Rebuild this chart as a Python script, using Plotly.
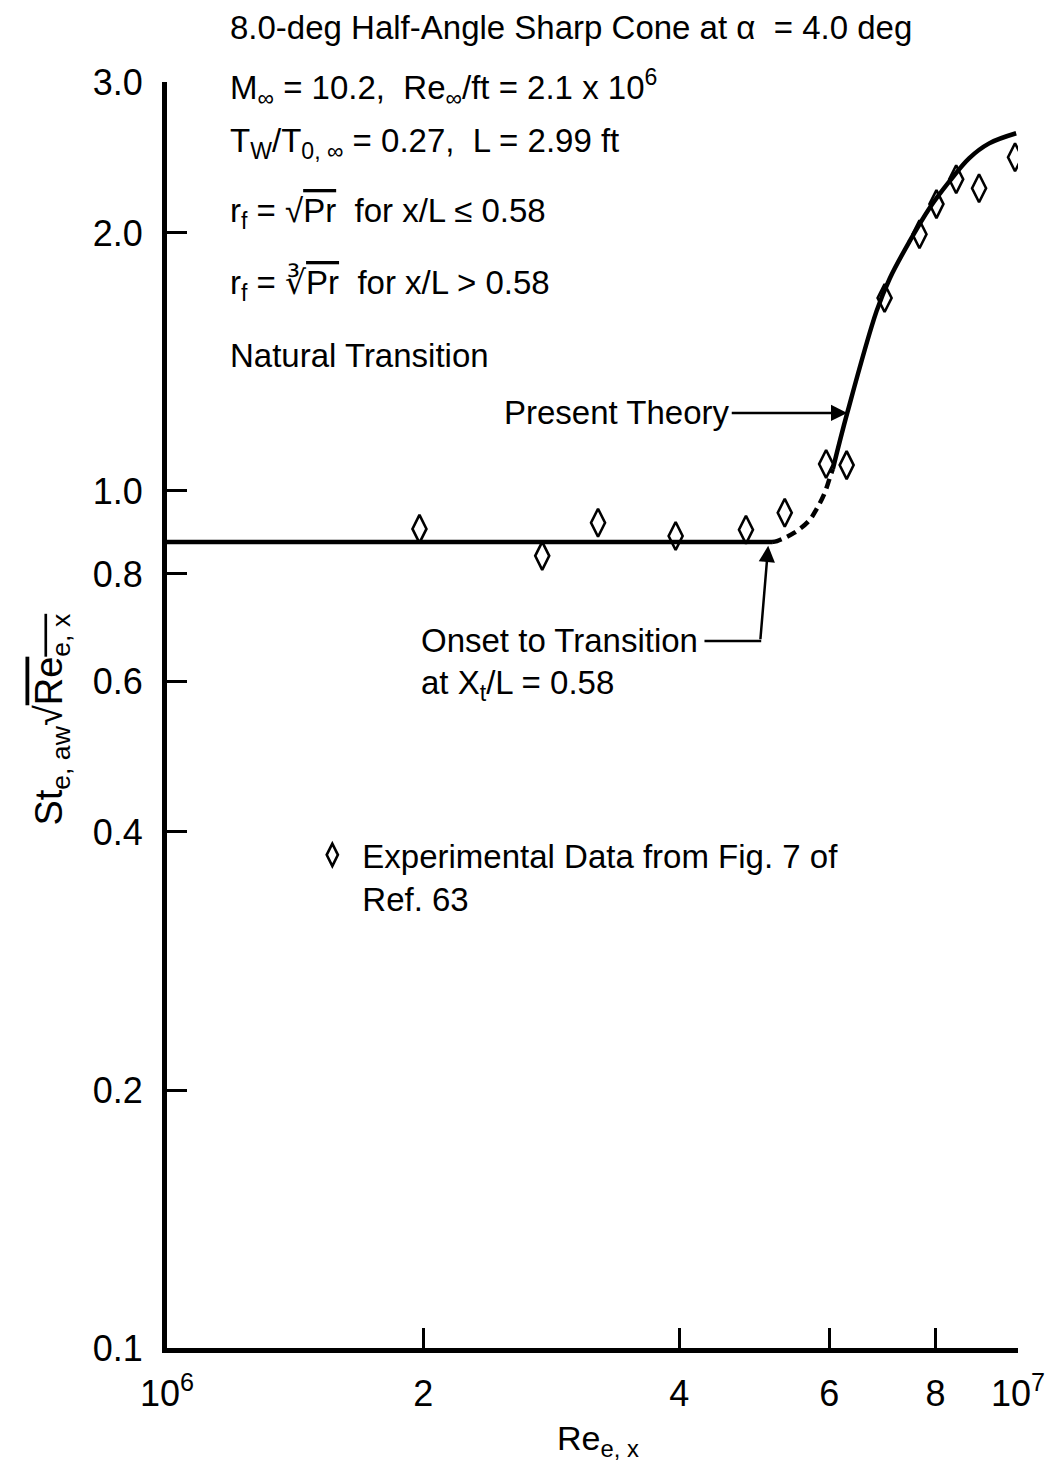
import math
import plotly.graph_objects as go

# ---------------- data ----------------
re_exp = [1.98e6, 2.76e6, 3.21e6, 3.96e6, 4.79e6, 5.32e6, 5.95e6, 6.29e6,
          6.97e6, 7.66e6, 8.02e6, 8.46e6, 9.00e6, 9.92e6]
st_exp = [0.903, 0.840, 0.918, 0.886, 0.901, 0.943, 1.075, 1.072,
          1.679, 1.993, 2.161, 2.310, 2.255, 2.451]

re_lam = [1.0e6, 5.14e6]
st_lam = [0.872, 0.872]

re_trans = [5.14e6, 5.21e6, 5.46e6, 5.68e6, 5.80e6, 5.92e6, 6.01e6, 6.06e6]
st_trans = [0.872, 0.874, 0.894, 0.923, 0.953, 0.992, 1.036, 1.061]

re_turb = [6.06e6, 6.30e6, 6.82e6, 7.07e6, 7.46e6, 7.87e6, 8.31e6, 8.76e6,
           9.25e6, 9.95e6]
st_turb = [1.061, 1.233, 1.621, 1.771, 1.956, 2.137, 2.298, 2.444,
           2.544, 2.614]

x_tickvals = [1e6, 2e6, 4e6, 6e6, 8e6, 1e7]
x_ticktext = ["10<sup>6</sup>", "2", "4", "6", "8", "10<sup>7</sup>"]
y_tickvals = [0.1, 0.2, 0.4, 0.6, 0.8, 1.0, 2.0, 3.0]
y_ticktext = ["0.1", "0.2", "0.4", "0.6", "0.8", "1.0", "2.0", "3.0"]

theory_arrow_pt = (6.30e6, 1.233)
onset_arrow_pt = (5.087e6, 0.863)

FONT = "Liberation Sans, Arial, DejaVu Sans, sans-serif"
TXT = 33
LW = 4.5

fig = go.Figure()

fig.add_trace(go.Scatter(x=re_lam, y=st_lam, mode="lines",
                         line=dict(color="black", width=LW), showlegend=False,
                         hoverinfo="skip"))
fig.add_trace(go.Scatter(x=re_trans, y=st_trans, mode="lines",
                         line=dict(color="black", width=LW, dash="10px,6px",
                                   shape="spline"),
                         showlegend=False, hoverinfo="skip"))
fig.add_trace(go.Scatter(x=re_turb, y=st_turb, mode="lines",
                         line=dict(color="black", width=LW, shape="spline"),
                         showlegend=False, hoverinfo="skip"))
fig.add_trace(go.Scatter(x=re_exp, y=st_exp, mode="markers",
                         name="Experimental Data from Fig. 7 of<br>Ref. 63",
                         marker=dict(symbol="diamond-tall-open", size=20,
                                     color="black",
                                     line=dict(color="black", width=2.6)),
                         showlegend=True))

axis_font = dict(family=FONT, size=36, color="black")

fig.update_xaxes(type="log", range=[6, 7], tickvals=x_tickvals,
                 ticktext=x_ticktext, ticks="inside", ticklen=20, tickwidth=3,
                 tickcolor="black", showline=True, linewidth=5,
                 linecolor="black", showgrid=False, zeroline=False,
                 tickfont=axis_font, ticklabelstandoff=10)
fig.update_yaxes(type="log", range=[-1, 0.47712], tickvals=y_tickvals,
                 ticktext=y_ticktext, ticks="inside", ticklen=20, tickwidth=3,
                 tickcolor="black", showline=True, linewidth=5,
                 linecolor="black", showgrid=False, zeroline=False,
                 tickfont=axis_font, ticklabelstandoff=12)

annots = []

def txt(x, y, text, xanchor="left", yanchor="middle", size=TXT, **kw):
    annots.append(dict(x=x, y=y, xref="paper", yref="paper", text=text,
                       showarrow=False, xanchor=xanchor, yanchor=yanchor,
                       font=dict(family=FONT, size=size, color="black"), **kw))

OV = "<span style='text-decoration:overline'>"
lx = 0.0713
txt(lx, 1.0427, "8.0-deg Half-Angle Sharp Cone at α  = 4.0 deg")
txt(lx, 0.9953, "M<sub>∞</sub> = 10.2,  Re<sub>∞</sub>/ft = 2.1 x 10<sup>6</sup>")
txt(lx, 0.9518, "T<sub>W</sub>/T<sub>0, ∞</sub> = 0.27,  L = 2.99 ft")
txt(lx, 0.8965, "r<sub>f</sub> = √" + OV + "Pr</span>  for x/L ≤ 0.58")
txt(lx, 0.8397, "r<sub>f</sub> = ∛" + OV + "Pr</span>  for x/L > 0.58")
txt(lx, 0.7836, "Natural Transition")

txt(0.2959, 0.5585, "Onset to Transition")
txt(0.2959, 0.5237, "at X<sub>t</sub>/L = 0.58")

# axis titles
txt(-0.1345, 0.496, "St<sub>e, aw</sub>√" + OV + "Re<sub>e, x</sub></span>",
    xanchor="center", size=38, textangle=-90)
txt(0.5064, -0.0727, "Re<sub>e, x</sub>", xanchor="center", size=34)

# arrows (annotation positions on log axes are given in log10 units)
annots.append(dict(x=math.log10(theory_arrow_pt[0]),
                   y=math.log10(theory_arrow_pt[1]), xref="x", yref="y",
                   text="Present Theory", showarrow=True, ax=-230, ay=0,
                   arrowhead=2, arrowsize=1.3, arrowwidth=2.5, arrowcolor="black",
                   font=dict(family=FONT, size=TXT, color="black")))
annots.append(dict(x=math.log10(onset_arrow_pt[0]),
                   y=math.log10(onset_arrow_pt[1]), xref="x", yref="y",
                   text=" ", showarrow=True, ax=-8, ay=96, standoff=0,
                   arrowhead=2, arrowsize=1.3, arrowwidth=2.5, arrowcolor="black",
                   font=dict(family=FONT, size=2, color="black")))

fig.update_layout(
    width=1057, height=1469,
    margin=dict(l=167, r=35, t=82, b=121),
    paper_bgcolor="white", plot_bgcolor="white",
    annotations=annots,
    shapes=[dict(type="line", xref="paper", yref="paper",
                 x0=(707 - 167) / 855, x1=(764 - 167) / 855,
                 y0=(1348 - 641) / 1266, y1=(1348 - 641) / 1266,
                 line=dict(color="black", width=2.5))],
    legend=dict(x=0.159, y=0.4116, xanchor="left", yanchor="top",
                itemwidth=50, valign="top", bgcolor="rgba(0,0,0,0)",
                font=dict(family=FONT, size=TXT, color="black")),
    font=dict(family=FONT, color="black"),
)

fig.write_html("out.html")
